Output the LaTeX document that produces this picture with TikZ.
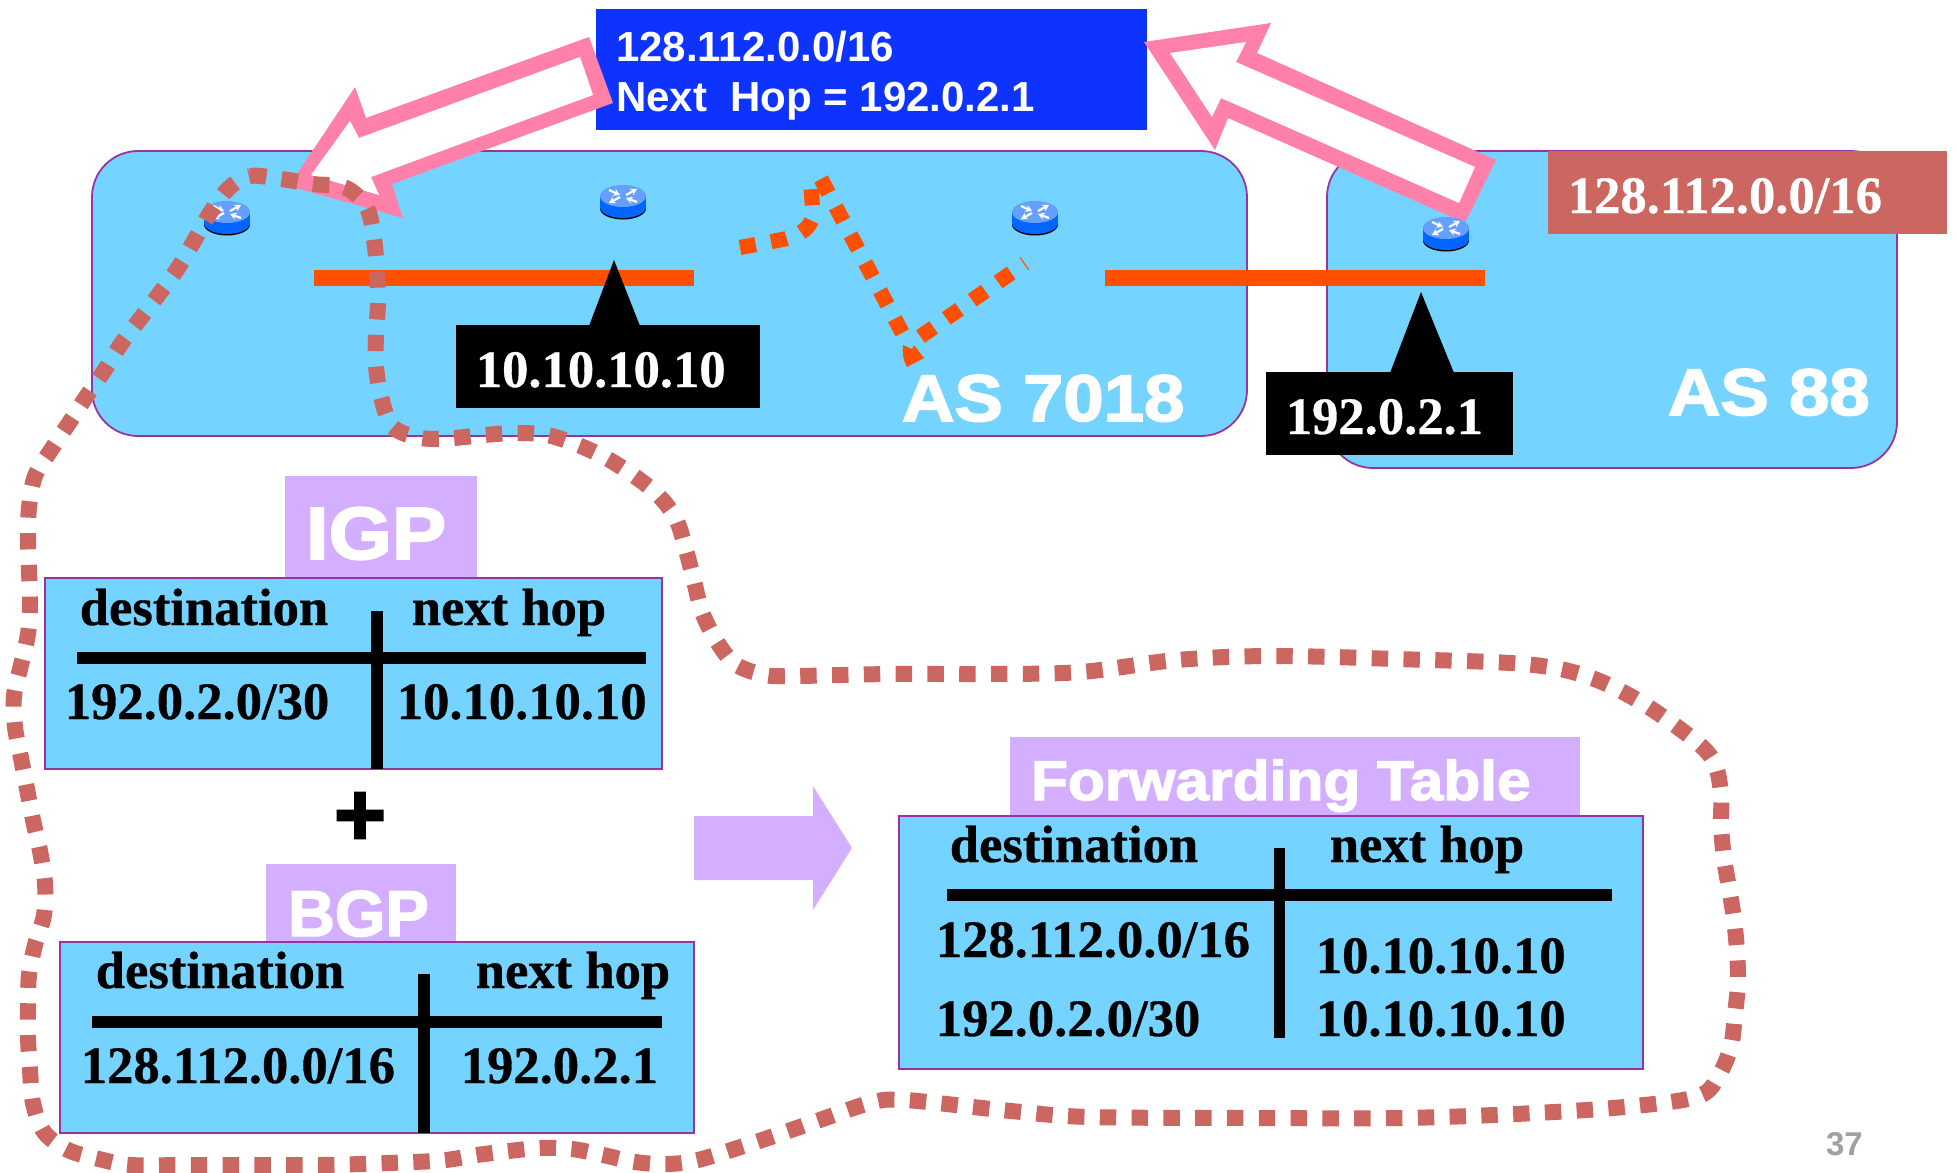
\documentclass[tikz,border=0pt]{standalone}
\usepackage{fontspec}
\setmainfont{Liberation Serif}
\setsansfont{Liberation Sans}
\newfontfamily\heavyfont[FakeBold=2.4,FakeStretch=1.10]{Liberation Sans Bold}
\newfontfamily\heavywide[FakeBold=2.6,FakeStretch=1.06]{Liberation Sans Bold}
\newfontfamily\heavyform[FakeBold=2.4,FakeStretch=1.08]{Liberation Sans Bold}
\newfontfamily\heavytall[FakeBold=2.6,FakeStretch=1.10]{Liberation Sans Bold}
\newfontfamily\heavyplain[FakeBold=2.2]{Liberation Sans Bold}
\newfontfamily\serifheavy[FakeBold=0.6]{Liberation Serif Bold}
\definecolor{skybox}{HTML}{75D3FF}
\definecolor{boxedge}{HTML}{9933A0}
\definecolor{bluelabel}{HTML}{0F33FF}
\definecolor{rosered}{HTML}{CC6660}
\definecolor{pinkarrow}{HTML}{FF80A8}
\definecolor{linkorange}{HTML}{FF5000}
\definecolor{lilac}{HTML}{D5AFFF}
\definecolor{routerblue}{HTML}{0066FF}
\definecolor{routertop}{HTML}{66A0FF}
\definecolor{pagegray}{HTML}{A0A0A0}
\usetikzlibrary{arrows.meta}
\tikzset{
  asbox/.style={fill=skybox,draw=boxedge,line width=0.9pt,rounded corners=23pt},
  tablebox/.style={fill=skybox,draw=boxedge,line width=0.8pt},
  bar/.style={fill=linkorange},
  txt/.style={anchor=base west,inner sep=0pt,outer sep=0pt},
  serifb/.style={txt,xshift=-0.6pt,yshift=0.5pt,font=\fontsize{26.3}{30}\selectfont\serifheavy},
  serifw/.style={serifb,text=white},
  sansw/.style={txt,text=white,font=\fontsize{21}{25}\selectfont\sffamily\bfseries},
  rosedots/.style={draw=rosered,line width=8pt,dash pattern=on 8.2pt off 7.7pt},
  orangedots/.style={draw=linkorange,line width=7.6pt,dash pattern=on 8pt off 7.8pt},
  iconarrow/.style={white,line width=1.1pt,-{Stealth[length=3.2pt,width=3.6pt]}},
  pics/routericon/.style={code={
    \fill[black] (0,1.5) ellipse[x radius=23,y radius=11];
    \fill[routerblue] (0,0) ellipse[x radius=23,y radius=11];
    \fill[routerblue] (-23,-11) rectangle (23,0);
    \fill[routertop] (0,-11) ellipse[x radius=23,y radius=11];
    \draw[iconarrow] (-14,-17) -- (-3,-12);
    \draw[iconarrow] (3,-12) -- (14,-18);
    \draw[iconarrow] (-3,-10) -- (-14,-4);
    \draw[iconarrow] (14,-5) -- (3,-9);
  }}
}
\begin{document}
\begin{tikzpicture}[x=0.5pt,y=-0.5pt]
\useasboundingbox (0,0) rectangle (1956,1173);
% autonomous systems
\path[asbox] (1327,151) rectangle (1897,468);
\path[asbox] (92,151) rectangle (1247,436);
\fill[rosered] (1548,151) rectangle (1947,234);
\node[serifw] (prefixas) at (1569,214) {128.112.0.0/16};
\node[txt,text=white,font=\fontsize{33}{36}\selectfont\heavyfont] (as7018) at (902,421) {AS 7018};
\node[txt,text=white,font=\fontsize{33}{36}\selectfont\heavyfont] (as88) at (1668,415) {AS 88};
% links
\fill[bar] (314,270) rectangle (694,286);
\fill[bar] (1105,270) rectangle (1485,286);
% address callouts
\fill[black] (456,325) rectangle (760,408);
\fill[black] (614,260) -- (640,326) -- (589,326) -- cycle;
\node[serifw] (addra) at (477,388) {10.10.10.10};
\fill[black] (1266,372) rectangle (1513,455);
\fill[black] (1421,292) -- (1454,373) -- (1390,373) -- cycle;
\node[serifw] (addrb) at (1287,435) {192.0.2.1};
% announcement box
\fill[bluelabel] (596,9) rectangle (1147,130);
\node[sansw] (annA) at (616,61) {128.112.0.0/16};
\node[sansw] (annB) at (616,111) {Next\ \ Hop = 192.0.2.1};
% pink arrows
\fill[pinkarrow] (589,37) -- (613,103) -- (392,184) -- (403,218) -- (289,186) -- (355,87) -- (366,118) -- cycle;
\fill[white] (580,57) -- (593,95) -- (371,177) -- (379,195) -- (311,175) -- (350,121) -- (359,138) -- cycle;
\fill[pinkarrow] (1144,42) -- (1271,23) -- (1257,53) -- (1496,160) -- (1465,223) -- (1228,118) -- (1215,150) -- cycle;
\fill[white] (1170,53) -- (1246,42) -- (1236,62) -- (1475,167) -- (1459,203) -- (1221,98) -- (1212,117) -- cycle;
% routers
\pic at (227,223) {routericon};
\pic at (623,207) {routericon};
\pic at (1035,223) {routericon};
\pic at (1446,239) {routericon};
% iBGP path
\draw[orangedots] (740,247.5) -- (785,239) .. controls (800,235) and (811,228) .. (813,215) -- (811,187);
\draw[orangedots] (821,179) -- (906,340);
\fill[linkorange] (903,345) -- (912,349) -- (914,345) -- (924,358) -- (907,367) .. controls (903,360) and (902,352) .. (903,345) -- cycle;
\draw[orangedots] (920.5,336.6) -- (1024.8,263.3);
% IGP table
\fill[lilac] (285,476) rectangle (477,578);
\node[txt,text=white,font=\fontsize{37}{40}\selectfont\heavytall] (igp) at (306,559) {IGP};
\path[tablebox] (45,578) rectangle (662,769);
\fill[black] (77,652) rectangle (646,664);
\fill[black] (371,611) rectangle (383,769);
\node[serifb] (igpA) at (81,626) {destination};
\node[serifb] (igpB) at (413,626) {next hop};
\node[serifb] (igpC) at (66,720) {192.0.2.0/30};
\node[serifb] (igpD) at (398,720) {10.10.10.10};
\node[anchor=center,inner sep=0pt,font=\fontsize{45}{50}\selectfont\heavyplain] (plus) at (360,819) {+};
% BGP table
\fill[lilac] (266,864) rectangle (456,942);
\node[txt,text=white,font=\fontsize{32.5}{36}\selectfont\heavyplain] (bgp) at (288,936) {BGP};
\path[tablebox] (60,942) rectangle (694,1133);
\fill[black] (92,1016) rectangle (662,1028);
\fill[black] (418,974) rectangle (430,1133);
\node[serifb] (bgpA) at (97,989) {destination};
\node[serifb] (bgpB) at (477,989) {next hop};
\node[serifb] (bgpC) at (82,1084) {128.112.0.0/16};
\node[serifb] (bgpD) at (462,1084) {192.0.2.1};
% big arrow
\fill[lilac] (694,816) -- (813,816) -- (813,786) -- (852,848) -- (813,910) -- (813,880) -- (694,880) -- cycle;
% forwarding table
\fill[lilac] (1010,737) rectangle (1580,816);
\node[txt,text=white,font=\fontsize{28}{34}\selectfont\heavyform] (fwd) at (1031,800) {Forwarding Table};
\path[tablebox] (899,816) rectangle (1643,1069);
\fill[black] (947,889) rectangle (1612,901);
\fill[black] (1274,848) rectangle (1285,1038);
\node[serifb] (fwA) at (951,863) {destination};
\node[serifb] (fwB) at (1331,863) {next hop};
\node[serifb] (fwC) at (937,958) {128.112.0.0/16};
\node[serifb] (fwD) at (937,1037) {192.0.2.0/30};
\node[serifb] (fwE) at (1317,974) {10.10.10.10};
\node[serifb] (fwF) at (1317,1037) {10.10.10.10};
\node[txt,text=pagegray,font=\fontsize{16.5}{18}\selectfont\sffamily\bfseries] (pageno) at (1826,1155) {37};
% enclosing dotted boundary
\draw[rosedots] plot[smooth cycle,tension=0.55] coordinates {
(229,188) (250,176) (281,179) (313,184) (346,188) (367,208) (374,239) (377,271) (378,303) (376,334) (376,366) (381,397) (393,427) (421,438) (453,438) (484,435) (516,433) (547,435) (578,445) (606,458) (633,475) (658,495) (676,519) (686,550) (694,581) (702,612) (716,640) (735,664) (765,675) (796,676) (891,674) (991,674) (1081,672) (1177,660) (1272,656) (1396,659) (1524,664) (1586,676) (1639,701) (1693,739) (1714,762) (1721,793) (1721,825) (1724,858) (1729,888) (1734,919) (1737,951) (1738,983) (1735,1014) (1731,1046) (1719,1075) (1699,1096) (1635,1106) (1536,1113) (1404,1118) (1255,1118) (1090,1117) (1011,1111) (905,1100) (870,1103) (817,1121) (759,1141) (698,1160) (666,1164) (635,1162) (603,1155) (572,1149) (540,1148) (509,1151) (477,1155) (446,1160) (414,1162) (320,1165) (194,1165) (131,1165) (99,1159) (68,1150) (44,1132) (33,1103) (30,1070) (28,1038) (28,1007) (29,975) (35,945) (44,915) (45,883) (40,851) (33,820) (27,789) (21,758) (15,727) (14,696) (21,665) (28,634) (30,603) (29,571) (28,539) (29,508) (35,476) (51,450) (69,423) (86,397) (104,371) (121,344) (140,319) (159,294) (178,268) (194,241) (210,213)};
\end{tikzpicture}
\end{document}
